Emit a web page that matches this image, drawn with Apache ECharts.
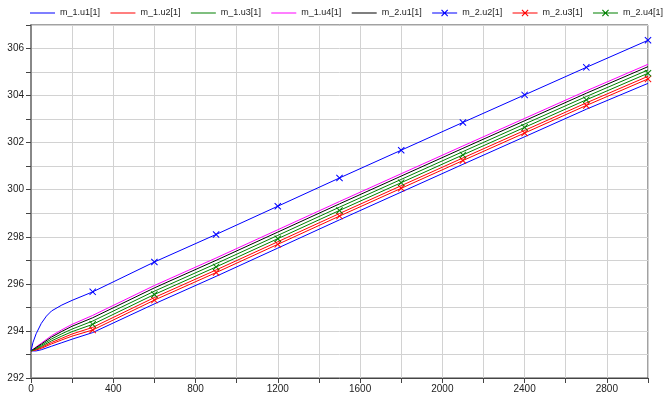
<!DOCTYPE html>
<html><head><meta charset="utf-8">
<script src="https://cdn.jsdelivr.net/npm/echarts@6/dist/echarts.min.js"></script>
<style>html,body{margin:0;padding:0;background:#fff}#c{width:665px;height:401px}</style>
</head><body><div id="c"></div>
<script>
// time samples (s)
const times = [0,25,50,100,150,200,300,600,900,1200,1500,1800,2100,2400,2700,3000];
const times2 = [0,10,25,50,75,100,150,200,300,600,900,1200,1500,1800,2100,2400,2700,3000];

const m1_u1 = [293.15,293.15,293.20,293.35,293.50,293.65,293.93,295.15,296.32,297.52,298.72,299.90,301.08,302.25,303.42,304.52];
const m1_u2 = [293.15,293.21,293.30,293.51,293.69,293.87,294.15,295.42,296.59,297.79,298.99,300.17,301.35,302.52,303.69,304.82];
const m1_u3 = [293.15,293.27,293.39,293.66,293.88,294.08,294.42,295.69,296.86,298.06,299.26,300.44,301.62,302.79,303.96,305.09];
const m1_u4 = [293.15,293.32,293.48,293.80,294.05,294.28,294.66,295.93,297.10,298.30,299.50,300.68,301.86,303.03,304.20,305.33];
const m2_u1 = [293.15,293.30,293.44,293.74,293.98,294.20,294.56,295.83,297.00,298.20,299.40,300.58,301.76,302.93,304.10,305.23];
const m2_u2 = [293.15,293.52,293.88,294.32,294.63,294.85,295.10,295.30,295.66,296.93,298.10,299.30,300.50,301.68,302.86,304.03,305.20,306.35];
const m2_u3 = [293.15,293.19,293.26,293.45,293.62,293.78,294.04,295.31,296.48,297.68,298.88,300.06,301.24,302.41,303.58,304.71];
const m2_u4 = [293.15,293.24,293.34,293.58,293.78,293.97,294.28,295.55,296.72,297.92,299.12,300.30,301.48,302.65,303.82,304.95];

const names = ['m_1.u1[1]','m_1.u2[1]','m_1.u3[1]','m_1.u4[1]','m_2.u1[1]','m_2.u2[1]','m_2.u3[1]','m_2.u4[1]'];
const colors = ['#0000ff','#ff0000','#008000','#ff00ff','#000000','#0000ff','#ff0000','#008000'];
const seriesData = [[times,m1_u1],[times,m1_u2],[times,m1_u3],[times,m1_u4],[times,m2_u1],[times2,m2_u2],[times,m2_u3],[times,m2_u4]];
const marked = [false,false,false,false,false,true,true,true];

const xMark = 'path://M0,1L1,0L5,4L9,0L10,1L6,5L10,9L9,10L5,6L1,10L0,9L4,5Z';
const lineIcon = 'path://M0,0H0.01V0.01H0Z M24.99,9.99H25V10H24.99Z M0,4.5H25V5.5H0Z';
const lineXIcon = lineIcon + ' M9,2.3L9.8,1.5L12.5,4.2L15.2,1.5L16,2.3L13.3,5L16,7.7L15.2,8.5L12.5,5.8L9.8,8.5L9,7.7L11.7,5Z';

const series = names.map((n,i)=>{
  const [tx, vy] = seriesData[i];
  const s = {
    name: n, type: 'line',
    data: tx.map((t,k)=>[t, vy[k]]),
    smooth: false,
    lineStyle: {width: 1, color: colors[i]},
    itemStyle: {color: colors[i]},
    z: 2
  };
  if (marked[i]) {
    s.symbol = xMark;
    s.showSymbol = true;
    s.symbolSize = function(v){ return (v[0] > 0 && v[0] % 300 === 0) ? 7 : 0; };
  } else {
    s.symbol = 'none';
    s.showSymbol = false;
  }
  return s;
});

const chart = echarts.init(document.getElementById('c'), null, {renderer: 'canvas'});
chart.setOption({
  animation: false,
  backgroundColor: '#fff',
  textStyle: {fontFamily: 'Liberation Sans, Arial, sans-serif'},
  color: colors,
  legend: {
    left: 25, top: 3, width: 720,
    itemWidth: 25, itemHeight: 10, itemGap: 10.4,
    textStyle: {fontSize: 9, color: '#222', fontFamily: 'Liberation Sans, Arial, sans-serif'},
    data: names.map((n,i)=>({name: n, icon: marked[i] ? lineXIcon : lineIcon, itemStyle: {color: colors[i]}}))
  },
  grid: {left: 31, right: 17, top: 25, bottom: 23, show: true, borderColor: '#444', borderWidth: 1, containLabel: false},
  xAxis: {
    type: 'value', min: 0, max: 3000, interval: 200,
    axisLine: {show: true, lineStyle: {color: '#444', width: 1}},
    axisTick: {show: true, length: 5, lineStyle: {color: '#444'}},
    axisLabel: {margin: 6, fontSize: 10, color: '#222', formatter: v => (v % 400 === 0 ? String(v) : '')},
    splitLine: {show: true, lineStyle: {color: '#d2d2d2', width: 1}}
  },
  yAxis: {
    type: 'value', min: 292, max: 307, interval: 1,
    axisLine: {show: true, lineStyle: {color: '#888', width: 2}},
    axisTick: {show: true, length: 5, lineStyle: {color: '#444'}},
    axisLabel: {margin: 7, fontSize: 10, color: '#222', formatter: v => (v % 2 === 0 ? String(v) : '')},
    splitLine: {show: true, lineStyle: {color: '#d2d2d2', width: 1}}
  },
  series: series
});
</script></body></html>
